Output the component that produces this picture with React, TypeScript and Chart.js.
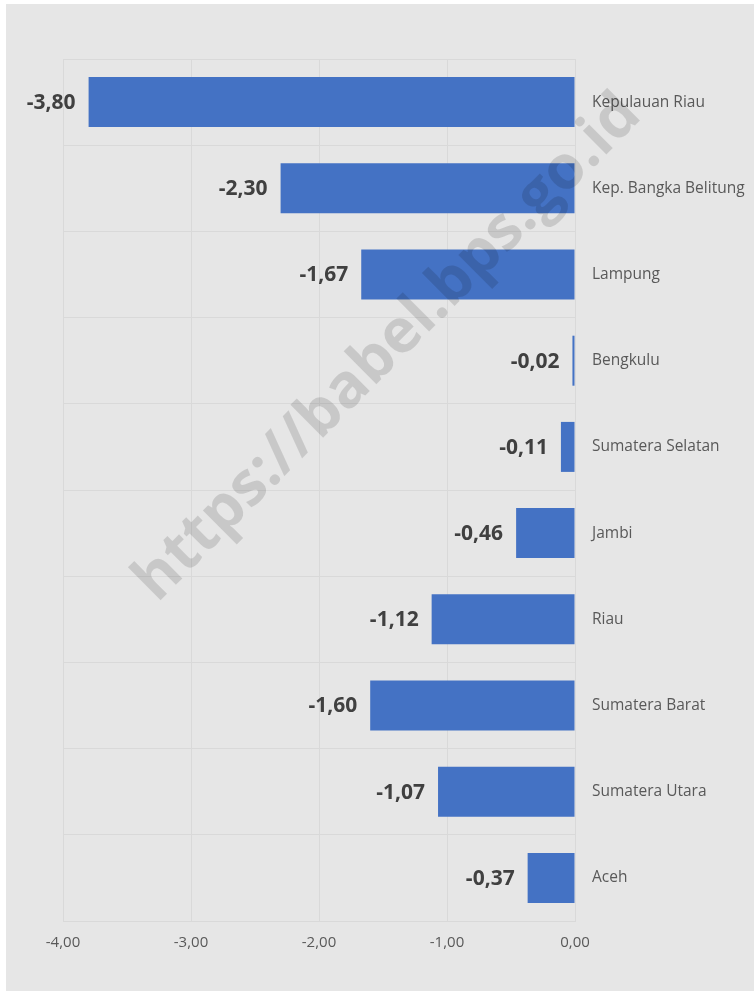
import React, { useEffect, useRef } from "react";
import { Chart, registerables } from "chart.js";

Chart.register(...registerables);

const categories = [
  "Kepulauan Riau",
  "Kep. Bangka Belitung",
  "Lampung",
  "Bengkulu",
  "Sumatera Selatan",
  "Jambi",
  "Riau",
  "Sumatera Barat",
  "Sumatera Utara",
  "Aceh",
];
const values = [-3.8, -2.3, -1.67, -0.02, -0.11, -0.46, -1.12, -1.6, -1.07, -0.37];
const xTicks = [-4, -3, -2, -1, 0];
const watermark = "https://babel.bps.go.id";

const fmt = (v: number) => v.toFixed(2).replace(".", ",");

const labelPlugin = {
  id: "barLabels",
  afterDatasetsDraw(chart: any) {
    const ctx = chart.ctx;
    const meta = chart.getDatasetMeta(0);
    ctx.save();
    ctx.font = "bold 21px 'Open Sans'";
    ctx.fillStyle = "#404040";
    ctx.textAlign = "right";
    ctx.textBaseline = "middle";
    meta.data.forEach((el: any, i: number) => {
      ctx.fillText(fmt(values[i]), el.x - 13, el.y + 1);
    });
    ctx.restore();
  },
  afterDraw(chart: any) {
    const ctx = chart.ctx;
    ctx.save();
    ctx.translate(382, 344);
    ctx.rotate(-Math.PI / 4);
    ctx.font = "bold 61px 'Open Sans'";
    ctx.fillStyle = "rgba(0,0,0,0.13)";
    ctx.textAlign = "center";
    ctx.textBaseline = "middle";
    ctx.fillText(watermark, 0, 0);
    ctx.restore();
  },
};

export default function App() {
  const ref = useRef<HTMLCanvasElement>(null);
  useEffect(() => {
    document.body.style.margin = "0";
    const chart = new Chart(ref.current!, {
      type: "bar",
      data: {
        labels: categories,
        datasets: [
          {
            data: values,
            backgroundColor: "#4472c4",
            borderWidth: 0,
            barPercentage: 0.58,
            categoryPercentage: 1,
          },
        ],
      },
      options: {
        indexAxis: "y",
        animation: false,
        responsive: false,
        devicePixelRatio: 1,
        layout: { padding: { left: 57, top: 55, right: 0, bottom: 0 } },
        plugins: { legend: { display: false }, tooltip: { enabled: false } },
        scales: {
          x: {
            min: -4,
            max: 0,
            afterBuildTicks: (s: any) => {
              s.ticks = xTicks.map((v) => ({ value: v }));
            },
            afterFit: (s: any) => {
              s.height = 70;
            },
            ticks: {
              callback: (v: any) => fmt(Number(v)),
              color: "#595959",
              font: { family: "'Open Sans'", size: 15 },
              padding: 13,
              maxRotation: 0,
            },
            grid: { color: "#d9d9d9", lineWidth: 1, drawTicks: false },
            border: { display: true, color: "#d9d9d9" },
          },
          y: {
            position: "right",
            offset: true,
            afterFit: (s: any) => {
              s.width = 179;
            },
            ticks: {
              color: "#595959",
              font: { family: "'Open Sans'", size: 15.5 },
              padding: 17,
            },
            grid: { color: "#d9d9d9", offset: true, drawTicks: false },
            border: { display: false },
          },
        },
      },
      plugins: [labelPlugin],
    });
    return () => chart.destroy();
  }, []);
  return (
    <div style={{ position: "absolute", left: 6, top: 4 }}>
      <canvas
        ref={ref}
        width={748}
        height={987}
        style={{ display: "block", width: 748, height: 987, background: "#e6e6e6" }}
      />
    </div>
  );
}
